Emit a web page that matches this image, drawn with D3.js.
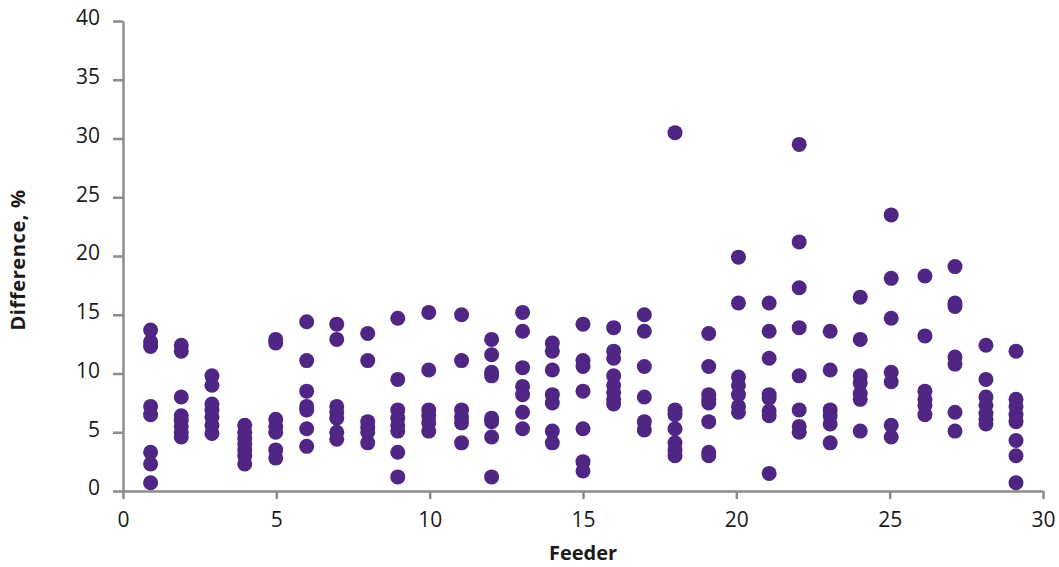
<!DOCTYPE html>
<html>
<head>
<meta charset="utf-8">
<script src="https://cdn.jsdelivr.net/npm/d3@7"></script>
<style>
  body { margin: 0; background: #fff; }
  text { font-family: "Open Sans", "Noto Sans", sans-serif; fill: #1a1a1a; }
</style>
</head>
<body>
<div id="chart"></div>
<script>
const width = 1059;
const height = 567;

// feeder positions as they sit on the x axis
const feederX = [0.9, 1.9, 2.9, 3.97, 4.98, 5.99, 6.97, 7.98, 8.96, 9.97,
  11.04, 12.02, 13.03, 14.0, 15.0, 16.0, 17.0, 18.0, 19.1, 20.07,
  21.07, 22.05, 23.06, 24.04, 25.05, 26.15, 27.13, 28.14, 29.12];

// difference values (%) for each feeder
const diffs = [
  [13.7, 12.7, 12.3, 7.2, 6.5, 3.3, 2.3, 0.7],
  [12.4, 11.9, 8.0, 6.4, 6.0, 5.5, 5.0, 4.6],
  [9.8, 9.0, 7.4, 6.9, 6.3, 5.6, 4.9],
  [5.6, 5.0, 4.5, 4.0, 3.5, 3.0, 2.3],
  [12.9, 12.6, 6.1, 5.5, 5.0, 3.5, 2.8],
  [14.4, 11.1, 8.5, 7.2, 6.9, 5.3, 3.8],
  [14.2, 12.9, 7.2, 6.7, 6.2, 5.0, 4.4],
  [13.4, 11.1, 5.9, 5.4, 5.0, 4.1],
  [14.7, 9.5, 6.9, 6.2, 5.6, 5.1, 3.3, 1.2],
  [15.2, 10.3, 6.9, 6.4, 5.8, 5.1],
  [15.0, 11.1, 6.9, 6.3, 5.8, 4.1],
  [12.9, 11.6, 10.1, 9.8, 6.2, 5.9, 4.6, 1.2],
  [15.2, 13.6, 10.5, 8.9, 8.2, 6.7, 5.3],
  [12.6, 11.9, 10.3, 8.2, 7.5, 5.1, 4.1],
  [14.2, 11.1, 10.6, 8.5, 5.3, 2.5, 1.7],
  [13.9, 11.9, 11.3, 9.8, 9.0, 8.4, 7.8, 7.4],
  [15.0, 13.6, 10.6, 8.0, 5.9, 5.2],
  [30.5, 6.9, 6.5, 5.3, 4.1, 3.5, 3.0],
  [13.4, 10.6, 8.2, 7.8, 7.5, 5.9, 3.3, 3.0],
  [19.9, 16.0, 9.7, 9.0, 8.2, 7.2, 6.7],
  [16.0, 13.6, 11.3, 8.2, 7.9, 6.8, 6.4, 1.5],
  [29.5, 21.2, 17.3, 13.9, 9.8, 6.9, 5.5, 5.0],
  [13.6, 10.3, 6.9, 6.4, 5.7, 4.1],
  [16.5, 12.9, 9.8, 9.2, 8.3, 7.8, 5.1],
  [23.5, 18.1, 14.7, 10.1, 9.3, 5.6, 4.6],
  [18.3, 13.2, 8.5, 7.8, 7.3, 6.5],
  [19.1, 16.0, 15.7, 11.4, 10.8, 6.7, 5.1],
  [12.4, 9.5, 8.0, 7.3, 6.6, 6.1, 5.7],
  [11.9, 7.8, 7.2, 6.5, 5.9, 4.3, 3.0, 0.7]
];

const xTicks = [0, 5, 10, 15, 20, 25, 30];
const yTicks = [0, 5, 10, 15, 20, 25, 30, 35, 40];

// flatten into points
const points = [];
feederX.forEach((fx, i) => {
  diffs[i].forEach(v => points.push({ x: fx, y: v }));
});

const svg = d3.select("#chart").append("svg")
    .attr("width", width)
    .attr("height", height);

const x = d3.scaleLinear().domain([0, 30]).range([123, 1043]);
const y = d3.scaleLinear().domain([0, 40]).range([491, 21]);

const axisColor = "#8c8c8c";

// x axis
const xAxis = svg.append("g")
    .attr("transform", `translate(0,${y(0)})`)
    .call(d3.axisBottom(x).tickValues(xTicks).tickSize(8).tickSizeOuter(0).tickPadding(13));

// y axis
const yAxis = svg.append("g")
    .attr("transform", `translate(${x(0)},0)`)
    .call(d3.axisLeft(y).tickValues(yTicks).tickSize(10).tickSizeOuter(0).tickPadding(13));

[xAxis, yAxis].forEach(g => {
  g.select(".domain").attr("stroke", axisColor).attr("stroke-width", 2.5);
  g.selectAll(".tick line").attr("stroke", axisColor).attr("stroke-width", 2.5);
  g.selectAll(".tick text")
      .attr("font-size", 21)
      .style("font-family", "'Open Sans', 'Noto Sans', sans-serif")
      .attr("fill", "#1a1a1a");
});
yAxis.selectAll(".tick text").attr("dy", "0.18em");

// points
svg.append("g")
  .selectAll("circle")
  .data(points)
  .enter().append("circle")
    .attr("cx", d => x(d.x))
    .attr("cy", d => y(d.y))
    .attr("r", 7.5)
    .attr("fill", "#4f2683");

// axis titles
svg.append("text")
    .attr("x", 583)
    .attr("y", 560)
    .attr("text-anchor", "middle")
    .attr("font-size", 20)
    .attr("font-weight", "bold")
    .text("Feeder");

svg.append("text")
    .attr("transform", `translate(25,260) rotate(-90)`)
    .attr("text-anchor", "middle")
    .attr("font-size", 20)
    .attr("font-weight", "bold")
    .attr("letter-spacing", 0.6)
    .text("Difference, %");
</script>
</body>
</html>
